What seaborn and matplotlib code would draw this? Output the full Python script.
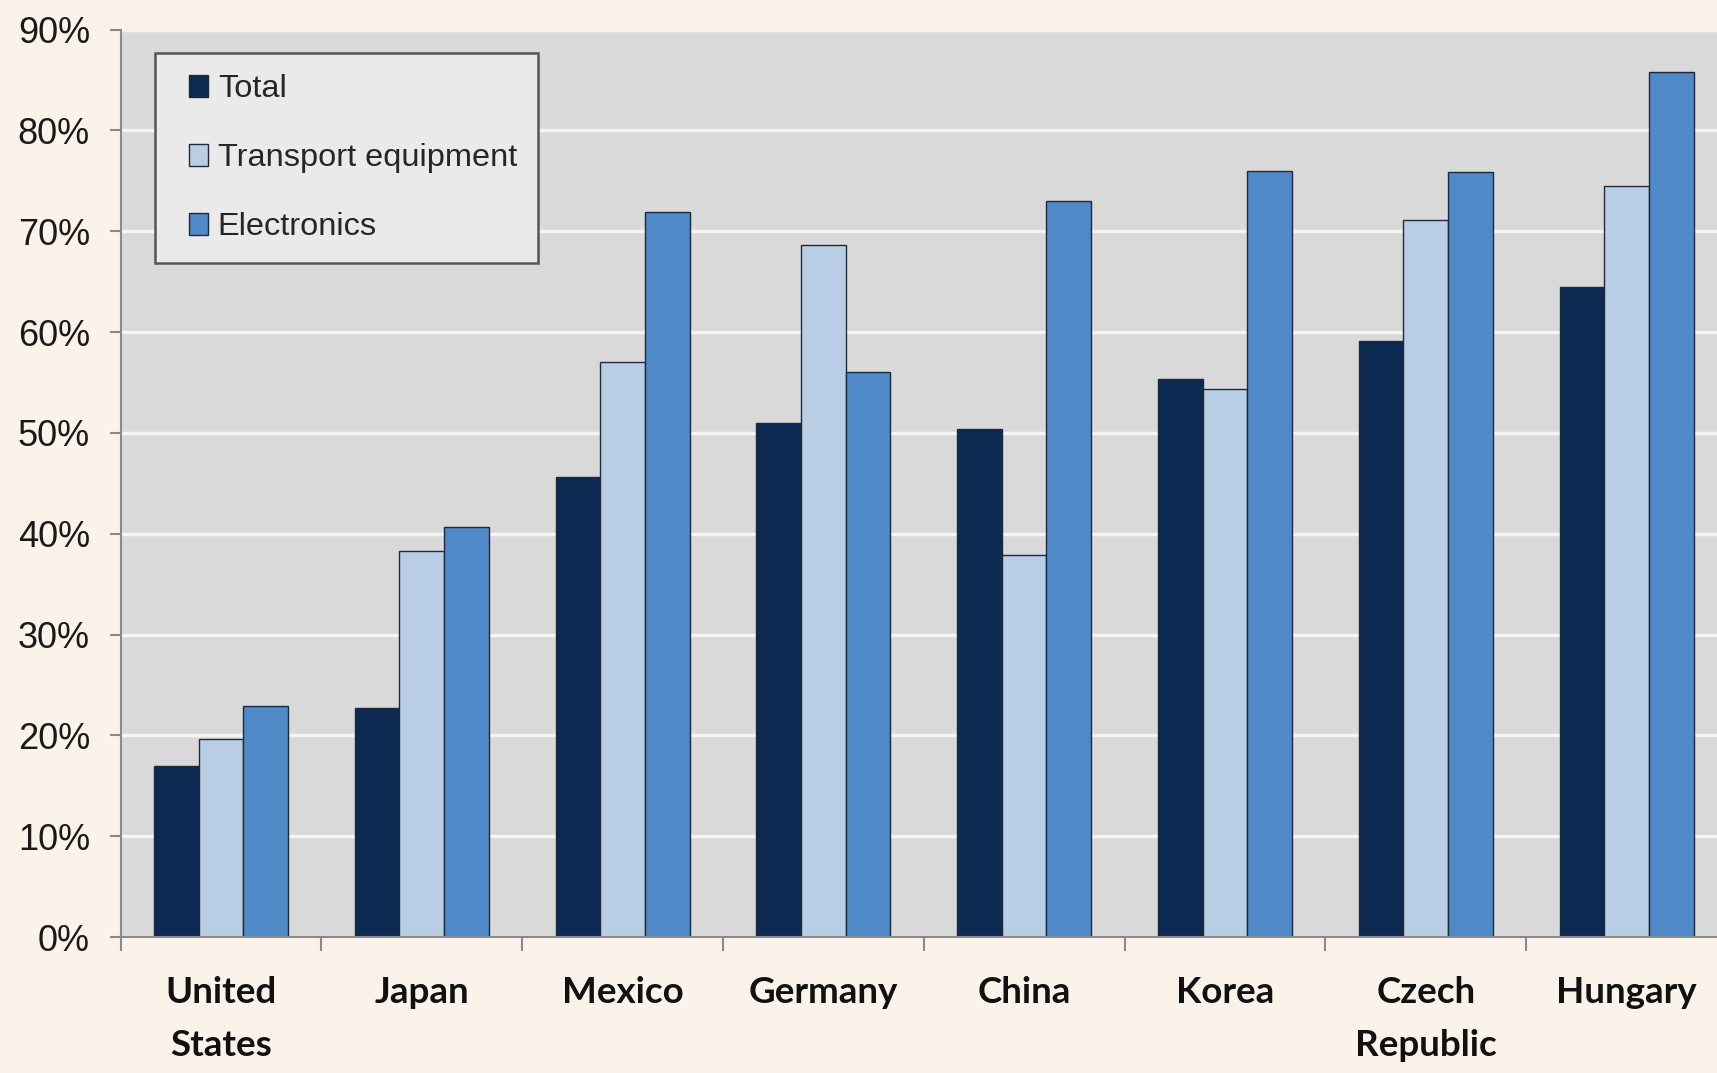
import matplotlib
matplotlib.use("Agg")
import matplotlib.pyplot as plt
import matplotlib.ticker as mticker
from matplotlib.patches import Patch, Rectangle
from matplotlib.legend_handler import HandlerPatch
import seaborn as sns
import pandas as pd
import numpy as np

countries = ["United\nStates", "Japan", "Mexico", "Germany", "China", "Korea",
             "Czech\nRepublic", "Hungary"]
series = ["Total", "Transport equipment", "Electronics"]
total = [17.0, 22.7, 45.6, 51.0, 50.4, 55.3, 59.1, 64.5]
transport = [19.6, 38.3, 57.0, 68.6, 37.9, 54.4, 71.1, 74.5]
electronics = [22.9, 40.7, 71.9, 56.0, 73.0, 76.0, 75.9, 85.8]
yticks = [0, 10, 20, 30, 40, 50, 60, 70, 80, 90]

colors = ["#0c2a52", "#b9cde5", "#4f89c7"]

df = pd.DataFrame({
    "country": countries * 3,
    "series": np.repeat(series, len(countries)),
    "value": total + transport + electronics,
})

sns.set_theme(style="white")
plt.rcParams["font.family"] = ["Liberation Sans", "DejaVu Sans"]

fig = plt.figure(figsize=(17.17, 10.73), dpi=100)
fig.patch.set_facecolor("#fbf3ea")
ax = fig.add_axes([0.0702, 0.1267, 0.9356, 0.8457])
ax.set_facecolor("#d9d9d9")

sns.barplot(data=df, x="country", y="value", hue="series", order=countries,
            hue_order=series, palette=colors, width=0.667, gap=0,
            edgecolor="#1e2a3a", linewidth=1.0, saturation=1, ax=ax,
            legend=False, errorbar=None)

ax.set_ylim(0, 90)
ax.set_xlim(-0.5, len(countries) - 0.5)
ax.set_yticks(yticks)
ax.yaxis.set_major_formatter(mticker.FuncFormatter(lambda v, p: f"{v:.0f}%"))
ax.set_axisbelow(True)
ax.yaxis.grid(True, color="#f4f4f4", linewidth=2.5)
ax.xaxis.grid(False)

for side in ["top", "right"]:
    ax.spines[side].set_visible(False)
for side in ["left", "bottom"]:
    ax.spines[side].set_color("#8a8a8a")
    ax.spines[side].set_linewidth(1.5)

ax.tick_params(axis="y", which="major", left=True, length=8, width=1.5,
               color="#8a8a8a", pad=14, labelsize=26, labelcolor="#1a1a1a")
ax.set_xticks(np.arange(len(countries)))
ax.set_xticklabels(countries, fontfamily=["Lato", "DejaVu Sans"],
                   fontweight="bold", fontsize=26.5, linespacing=1.75,
                   color="#111111", va="top")
ax.set_xticks(np.arange(len(countries)) - 0.5, minor=True)
ax.tick_params(axis="x", which="major", length=0, pad=28)
ax.tick_params(axis="x", which="minor", bottom=True, length=10, width=1.5,
               color="#8a8a8a")
ax.set_xlabel("")
ax.set_ylabel("")


# small square legend keys (size in points), at the right end of the handle box
def square_key(legend, orig_handle, xdescent, ydescent, width, height, fontsize):
    w, h = 14.0, 16.0
    return Rectangle((-xdescent + width - w, -ydescent + (height - h) / 2), w, h)


handles = [Patch(facecolor=c, edgecolor="#1e2a3a", linewidth=1.0) for c in colors]
leg = ax.legend(handles, series, loc="upper left",
                bbox_to_anchor=(0.0215, 0.974), borderaxespad=0,
                frameon=True, fancybox=False, facecolor="#eaeaea",
                edgecolor="#555555", framealpha=1, handlelength=0.98,
                handleheight=0.7, handletextpad=0.3, labelspacing=1.2,
                borderpad=0.65,
                handler_map={Patch: HandlerPatch(patch_func=square_key)},
                prop={"family": ["Liberation Sans Narrow", "Liberation Sans"],
                      "size": 23.4})
leg.get_frame().set_linewidth(1.8)

fig.savefig("out.png", dpi=100, facecolor=fig.get_facecolor())
